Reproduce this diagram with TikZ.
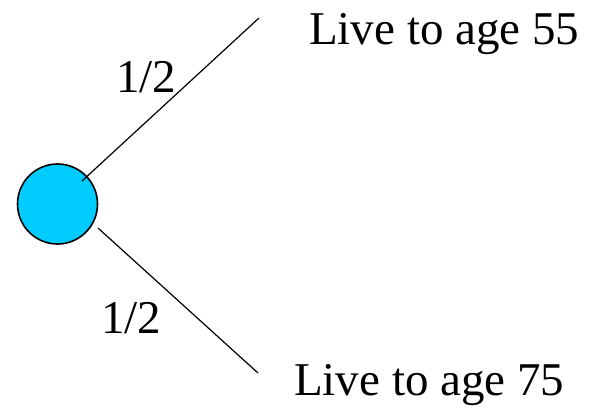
\documentclass[tikz,border=0pt]{standalone}
\usepackage{fontspec}
\setmainfont{Liberation Serif}
\usetikzlibrary{positioning}

\definecolor{chance}{RGB}{0,204,255}

\begin{document}
\begin{tikzpicture}[
    x=1pt, y=-1pt,
    chancenode/.style={draw, circle, fill=chance, minimum size=80pt, inner sep=0pt, line width=1.6pt},
    outcome/.style={anchor=base west, inner sep=0pt, font=\fontsize{47}{54}\selectfont},
    prob/.style={anchor=base west, inner sep=0pt, font=\fontsize{47}{54}\selectfont},
    branch/.style={line width=1.2pt}
]
\useasboundingbox (0,0) rectangle (596,407);

% --- Chance node ---
\node[chancenode] (root) at (57.5,204) {};

% --- Branch ends ---
\coordinate (upstart) at (82,181);
\coordinate (upend)   at (259,18);
\coordinate (downstart) at (98,228);
\coordinate (downend)   at (258,373);

% --- Branches ---
\draw[branch] (upstart) -- (upend);
\draw[branch] (downstart) -- (downend);

% --- Outcomes ---
\node[outcome] (live55) at (309,44)  {Live to age 55};
\node[outcome] (live75) at (294,395) {Live to age 75};

% --- Probabilities ---
\node[prob] (pup)   at (116,92)  {1/2};
\node[prob] (pdown) at (101,333) {1/2};

\end{tikzpicture}
\end{document}
